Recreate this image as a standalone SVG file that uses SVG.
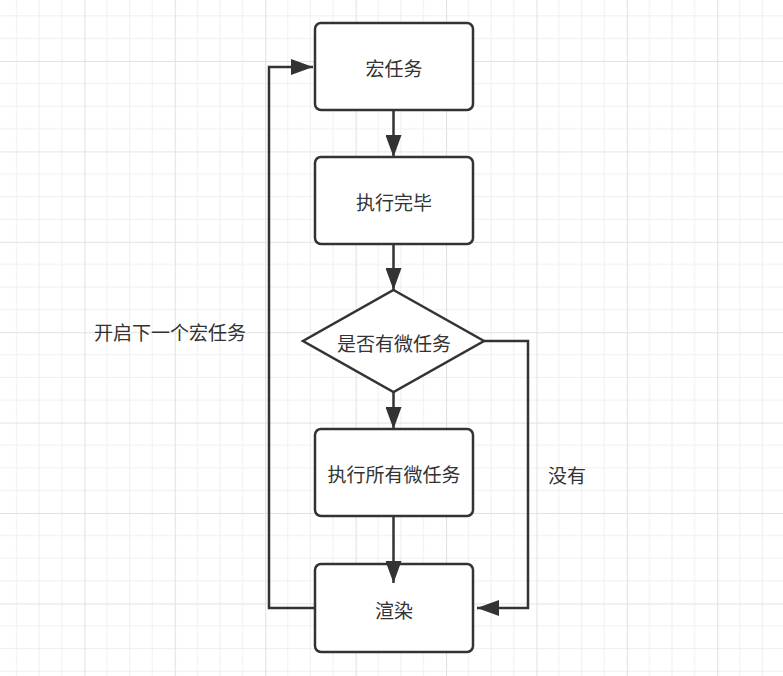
<svg xmlns="http://www.w3.org/2000/svg" width="783" height="676" viewBox="0 0 783 676">
<defs>
<pattern id="grid" x="-6" y="-29.4" width="90.4" height="90.4" patternUnits="userSpaceOnUse">
<path d="M22.6 0V90.4M45.2 0V90.4M67.8 0V90.4M0 22.6H90.4M0 45.2H90.4M0 67.8H90.4" stroke="#efefef" stroke-width="1" fill="none"/>
<path d="M0.5 0V90.4M0 0.5H90.4" stroke="#e2e2e2" stroke-width="1.2" fill="none"/>
</pattern>
<marker id="arr" viewBox="0 0 22 16" refX="22" refY="8" markerWidth="22" markerHeight="16" markerUnits="userSpaceOnUse" orient="auto">
<path d="M0 0L22 8L0 16Z" fill="#333"/>
</marker>
</defs>
<style>
.box{fill:#fff;stroke:#333;stroke-width:2.5}
.lbl{font-family:"Noto Sans CJK SC","Liberation Sans",sans-serif;font-size:19px;fill:#333;text-anchor:middle;dominant-baseline:central}
.edge{fill:none;stroke:#333;stroke-width:2.5}
</style>
<rect width="783" height="676" fill="#fff"/>
<rect width="783" height="676" fill="url(#grid)"/>
<g id="node-macrotask">
<rect class="box" x="315" y="23" width="158" height="87" rx="6"/>
<text class="lbl" x="394" y="67">宏任务</text>
</g>
<g id="node-done">
<rect class="box" x="315" y="157" width="158" height="87" rx="6"/>
<text class="lbl" x="394" y="201">执行完毕</text>
</g>
<g id="node-decision">
<path class="box" d="M393.5 290L484 341L393.5 392L303 341Z"/>
<text class="lbl" x="394" y="342">是否有微任务</text>
</g>
<g id="node-microtasks">
<rect class="box" x="315" y="429" width="158" height="87" rx="6"/>
<text class="lbl" x="394" y="473">执行所有微任务</text>
</g>
<g id="node-render">
<rect class="box" x="315" y="564" width="158" height="88" rx="6"/>
<text class="lbl" x="394" y="609">渲染</text>
</g>
<g id="connectors">
<path class="edge" d="M393.5 111V157" marker-end="url(#arr)"/>
<path class="edge" d="M393.5 245V290" marker-end="url(#arr)"/>
<path class="edge" d="M393.5 392V429" marker-end="url(#arr)"/>
<path class="edge" d="M393.5 517V583" marker-end="url(#arr)"/>
<path class="edge" d="M484 341H528V608H477" marker-end="url(#arr)"/>
<path class="edge" d="M314 608H269V67H313" marker-end="url(#arr)"/>
</g>
<g id="labels">
<text class="lbl" x="170" y="331">开启下一个宏任务</text>
<text class="lbl" x="567" y="474">没有</text>
</g>
</svg>
